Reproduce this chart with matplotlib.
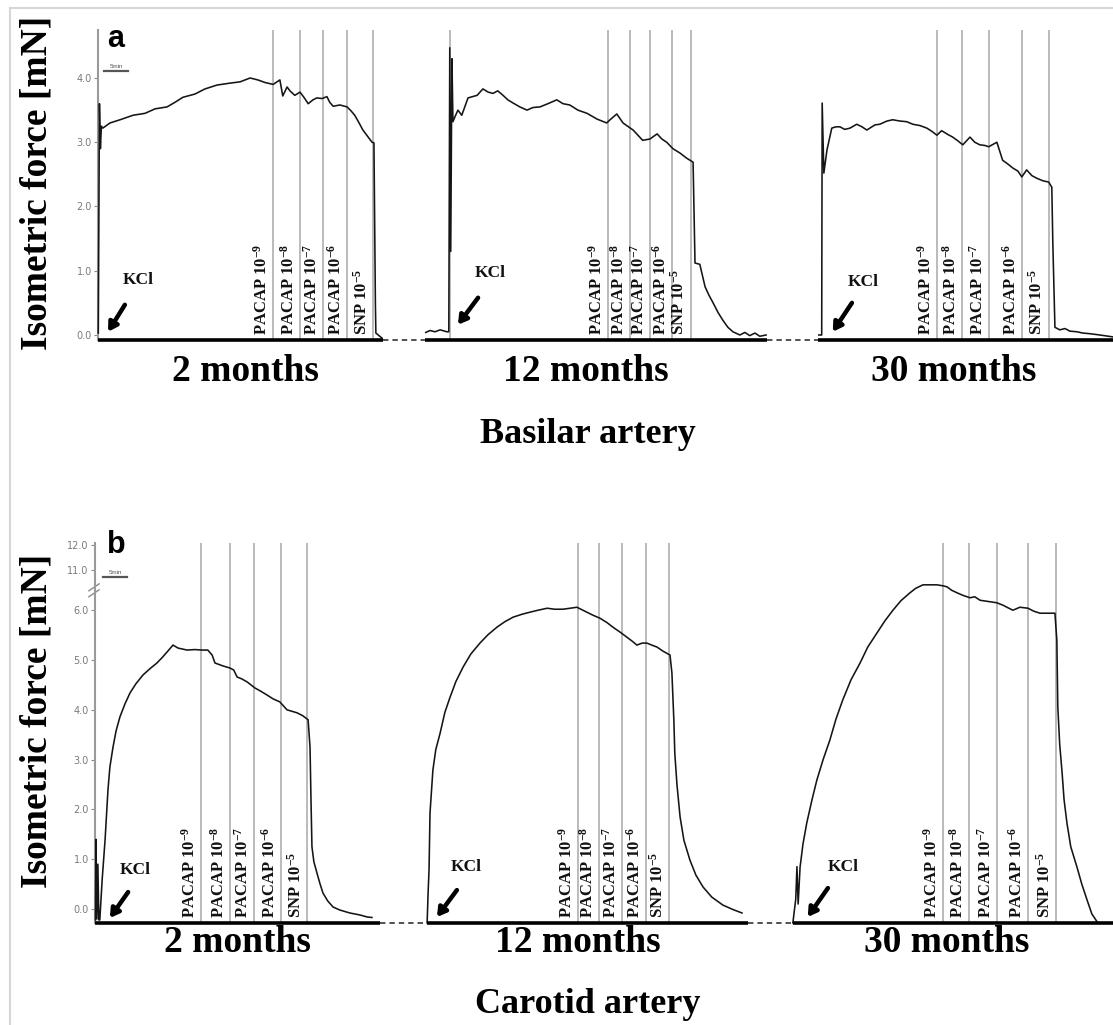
import matplotlib
matplotlib.use('Agg')
import matplotlib.pyplot as plt
import matplotlib.transforms as mtransforms
from matplotlib.lines import Line2D

plt.rcParams['mathtext.fontset'] = 'custom'
plt.rcParams['mathtext.rm'] = 'Liberation Serif:bold'
plt.rcParams['mathtext.it'] = 'Liberation Serif:bold'
plt.rcParams['mathtext.bf'] = 'Liberation Serif:bold'
plt.rcParams['mathtext.default'] = 'rm'

W, H = 1113, 1025
SERIF = 'Liberation Serif'
SANS = 'Liberation Sans'

# ---------------- data ----------------
groups = ['2 months', '12 months', '30 months']
drug_labels = ['PACAP 10$^{-9}$', 'PACAP 10$^{-8}$', 'PACAP 10$^{-7}$',
               'PACAP 10$^{-6}$', 'SNP 10$^{-5}$']

# Panel a: basilar artery (time in min, force in mN)
a_ticks = [0, 1, 2, 3, 4]
a_tick_labels = ['0.0', '1.0', '2.0', '3.0', '4.0']
a_segments = [(0.0, 59.4), (68.1, 139.4), (150.0, 211.5)]
a_additions = [[36.5, 42.1, 46.9, 51.9, 57.3],
               [106.3, 110.8, 115.0, 119.6, 123.5],
               [174.8, 180.0, 185.6, 192.5, 198.1]]
a_kcl_marker = [73.3]

a_t1 = [0.06, 0.3, 0.5, 0.7, 1.0, 2.5, 4.6, 7.3, 9.8, 11.9, 14.4, 16.0, 17.7, 20.2, 22.3,
        24.8, 27.5, 29.6, 31.7, 33.3, 34.8, 36.5, 37.9, 38.5, 39.4, 40.0, 41.0, 42.1, 42.9,
        43.8, 44.8, 45.6, 46.7, 47.7, 48.3, 49.0, 50.4, 51.9, 52.7, 53.5, 54.4, 55.2, 56.3,
        57.1, 57.5, 57.8, 57.9, 59.2]
a_f1 = [0.03, 3.60, 2.90, 3.25, 3.22, 3.30, 3.35, 3.42, 3.45, 3.52, 3.55, 3.62, 3.70, 3.75, 3.83,
        3.89, 3.92, 3.94, 4.00, 3.97, 3.93, 3.90, 3.97, 3.72, 3.86, 3.80, 3.73, 3.78, 3.70,
        3.60, 3.66, 3.69, 3.68, 3.71, 3.62, 3.56, 3.58, 3.55, 3.49, 3.42, 3.30, 3.19, 3.08,
        3.00, 2.99, 0.50, 0.03, -0.05]

a_t2 = [68.3, 69.2, 70.2, 71.3, 72.7, 73.1, 73.3, 73.5, 73.75, 73.96, 74.4, 75.0, 75.8, 77.1,
        79.0, 80.2, 81.3, 82.3, 83.3, 84.4, 85.4, 86.5, 87.9, 89.4, 90.6, 92.1, 93.75, 95.6,
        96.9, 98.3, 100.0, 101.9, 104.0, 106.0, 106.7, 108.1, 109.4, 111.5, 113.5, 115.0,
        116.5, 117.5, 118.5, 119.8, 121.3, 122.7, 124.0, 124.4, 125.4, 126.5, 127.3, 128.1,
        129.2, 130.2, 131.25, 132.3, 133.75, 134.8, 135.8, 136.9, 137.9, 139.2]
a_f2 = [0.04, 0.07, 0.05, 0.08, 0.05, 0.05, 4.47, 1.30, 4.30, 3.32, 3.40, 3.50, 3.42, 3.69,
        3.73, 3.83, 3.78, 3.76, 3.80, 3.73, 3.66, 3.61, 3.55, 3.50, 3.54, 3.55, 3.60, 3.66,
        3.60, 3.58, 3.50, 3.45, 3.36, 3.30, 3.35, 3.44, 3.30, 3.19, 3.03, 3.05,
        3.13, 3.05, 3.00, 2.90, 2.83, 2.75, 2.69, 1.12, 1.10, 0.75, 0.62, 0.51,
        0.35, 0.23, 0.12, 0.05, 0.00, 0.04, -0.01, 0.03, -0.02, 0.00]

a_t3 = [150.2, 150.8, 150.9, 151.25, 151.9, 152.9, 153.75, 154.6, 155.6, 156.7, 158.1, 159.2,
        160.2, 161.9, 162.9, 164.4, 165.6, 167.1, 168.5, 169.8, 171.25, 172.7, 173.75, 174.8,
        175.8, 177.1, 178.1, 179.2, 180.2, 181.7, 182.7, 183.75, 184.8, 185.6, 187.3, 188.5,
        189.6, 190.6, 191.7, 192.5, 193.5, 194.6, 195.6, 196.9, 198.1, 198.75, 198.96, 199.4,
        200.4, 201.5, 202.5, 204.0, 205.2, 206.7, 208.75, 211.5]
a_f3 = [0.00, 0.00, 3.61, 2.52, 2.88, 3.22, 3.24, 3.24, 3.20, 3.22, 3.28, 3.24,
        3.19, 3.27, 3.28, 3.33, 3.35, 3.33, 3.32, 3.28, 3.26, 3.22, 3.17, 3.11,
        3.18, 3.12, 3.08, 3.02, 2.96, 3.08, 3.00, 2.96, 2.95, 2.93, 3.00, 2.72,
        2.66, 2.60, 2.55, 2.46, 2.57, 2.48, 2.44, 2.40, 2.38, 2.30, 1.43, 0.12,
        0.08, 0.10, 0.06, 0.05, 0.03, 0.02, 0.00, -0.03]

# Panel b: carotid artery (broken axis: 11.0 / 12.0 drawn above 6.0)
b_ticks = [0, 1, 2, 3, 4, 5, 6, 6.81, 7.31]
b_tick_labels = ['0.0', '1.0', '2.0', '3.0', '4.0', '5.0', '6.0', '11.0', '12.0']
b_segments = [(0.0, 59.4), (69.2, 136.0), (145.4, 212.1)]
b_additions = [[22.1, 28.1, 33.1, 38.75, 44.2],
               [100.6, 105.0, 109.8, 114.8, 119.6],
               [176.7, 182.1, 187.9, 194.4, 200.2]]

b_t1 = [0.1, 0.2, 0.4, 0.6, 0.8, 1.0, 1.5, 2.1, 2.7, 3.1, 3.75, 4.4, 5.2, 6.25, 7.3, 8.5, 10.0,
        11.5, 12.9, 14.0, 15.0, 16.25, 17.3, 19.2, 20.8, 22.3, 23.5, 24.4, 25.0, 26.7, 28.1,
        28.9, 29.6, 30.6, 31.7, 33.3, 34.6, 35.8, 37.1, 38.5, 40.0, 42.1, 43.3, 44.4, 44.8,
        45.0, 45.2, 45.6, 46.25, 46.9, 47.5, 48.5, 49.6, 51.0, 53.1, 55.2, 56.7, 57.7]
b_f1 = [-0.22, 1.40, -0.20, 0.90, -0.22, -0.22, 0.60, 1.39, 2.39, 2.85, 3.25, 3.58, 3.86, 4.12,
        4.34, 4.52, 4.70, 4.83, 4.94, 5.05, 5.16, 5.30, 5.24, 5.20, 5.21, 5.20, 5.20, 5.10,
        4.94, 4.88, 4.84, 4.80, 4.66, 4.62, 4.56, 4.44, 4.37, 4.30, 4.22, 4.16, 4.00, 3.94,
        3.88, 3.80, 3.25, 2.20, 1.25, 0.95, 0.72, 0.50, 0.32, 0.16, 0.04, -0.02, -0.08,
        -0.12, -0.16, -0.17]

b_t2 = [69.2, 69.4, 69.6, 69.8, 70.4, 71.0, 71.9, 72.9, 74.0, 75.2, 76.7, 78.3, 80.2, 81.9,
        83.75, 85.4, 87.1, 89.0, 90.6, 92.3, 94.2, 95.8, 97.5, 99.0, 100.4, 102.5, 103.75,
        105.2, 106.7, 107.9, 109.4, 110.8, 111.9, 112.9, 114.0, 115.0, 116.0, 117.1, 118.3,
        119.8, 120.2, 120.6, 120.8, 121.25, 121.9, 122.7, 123.96, 125.2, 126.7, 128.5,
        130.8, 132.9, 134.8]
b_f2 = [-0.28, 0.32, 0.80, 1.93, 2.79, 3.20, 3.53, 3.95, 4.26, 4.57, 4.86, 5.12, 5.34, 5.51,
        5.66, 5.77, 5.86, 5.92, 5.96, 6.00, 6.04, 6.02, 6.02, 6.04, 6.06, 5.96, 5.90,
        5.84, 5.75, 5.66, 5.56, 5.46, 5.38, 5.30, 5.34, 5.34, 5.30, 5.26, 5.18,
        5.10, 4.74, 3.80, 3.13, 2.50, 1.85, 1.38, 0.98, 0.68, 0.44, 0.24,
        0.08, -0.01, -0.08]

b_t3 = [145.4, 146.0, 146.25, 146.5, 146.9, 147.5, 148.3, 149.4, 150.4, 151.7, 153.1, 154.4,
        155.8, 157.5, 159.4, 161.0, 162.9, 164.6, 166.25, 167.9, 169.8, 171.0, 172.5, 174.0,
        175.4, 176.7, 177.5, 178.5, 179.6, 180.8, 182.3, 183.3, 184.4, 186.5, 187.9, 189.2,
        190.2, 191.25, 192.7, 194.4, 195.6, 196.9, 198.5, 200.0, 200.4, 200.6, 201.0, 201.5,
        201.9, 202.5, 203.3, 204.6, 205.6, 206.7, 207.7, 208.95]
b_f3 = [-0.28, 0.20, 0.85, 0.10, 0.84, 1.30, 1.73, 2.20, 2.59, 3.00, 3.39, 3.82,
        4.20, 4.60, 4.94, 5.26, 5.54, 5.79, 6.00, 6.19, 6.35, 6.44, 6.51, 6.51,
        6.51, 6.49, 6.47, 6.40, 6.35, 6.30, 6.25, 6.27, 6.20, 6.17, 6.15, 6.10,
        6.05, 6.00, 6.06, 6.04, 5.98, 5.94, 5.94, 5.94, 5.40, 4.06, 3.30, 2.73,
        2.20, 1.73, 1.25, 0.84, 0.50, 0.18, -0.10, -0.28]

# KCl annotation anchors (text position, arrow tail, arrow tip) in (min, mN)
a_kcl = [((8.3, 0.86), (5.6, 0.47), (2.1, 0.05)),
         ((81.7, 0.96), (79.2, 0.58), (75.0, 0.16)),
         ((159.4, 0.82), (157.1, 0.50), (153.1, 0.05))]
b_kcl = [((8.3, 0.78), (6.9, 0.34), (3.1, -0.18)),
         ((77.3, 0.84), (75.4, 0.38), (71.25, -0.16)),
         ((155.8, 0.84), (152.7, 0.42), (148.5, -0.16))]

# ---------------- figure ----------------
fig = plt.figure(figsize=(W / 100, H / 100), dpi=100)
fig.patch.set_facecolor('white')


def px_axes(left, top, right, bottom):
    return fig.add_axes([left / W, 1 - bottom / H, (right - left) / W, (bottom - top) / H])


def draw_panel(ax, traces, segments, additions, kcl, ylim, xlim, ticks, ticklabels,
               scale_y, scale_text_y, extra_lines=()):
    ax.set_xlim(*xlim)
    ax.set_ylim(*ylim)
    for s in ['top', 'right', 'bottom']:
        ax.spines[s].set_visible(False)
    ax.spines['left'].set_color('#9a9a9a')
    ax.spines['left'].set_linewidth(1.5)
    ax.set_xticks([])
    ax.set_yticks(ticks)
    ax.set_yticklabels(ticklabels)
    ax.tick_params(axis='y', length=3, width=0.8, color='#8a8a8a', labelsize=7,
                   labelcolor='#7a7a7a', pad=1.5)
    xt = ax.get_xaxis_transform()
    # baseline segments and dashed breaks
    for i, (s0, s1) in enumerate(segments):
        ax.plot([s0, s1], [0, 0], transform=xt, color='black', lw=2.6,
                solid_capstyle='butt', clip_on=False, zorder=4)
        if i < len(segments) - 1:
            n0 = segments[i + 1][0]
            ax.plot([s1, n0], [0, 0], transform=xt, color='#444444', lw=1.3,
                    linestyle=(0, (3, 2.2)), clip_on=False, zorder=4)
    # addition markers
    lab_tr = mtransforms.offset_copy(xt, fig=fig, x=-2.5, y=5, units='dots')
    for adds in additions:
        for x, lab in zip(adds, drug_labels):
            ax.axvline(x, 0, 1, color='#a8a8a8', lw=1.1, zorder=1)
            ax.text(x, 0, lab, transform=lab_tr, rotation=90, ha='right', va='bottom',
                    fontsize=12, family=SERIF, weight='bold', color='#111111', zorder=5)
    for x in extra_lines:
        ax.axvline(x, 0, 1, color='#a8a8a8', lw=1.1, zorder=1)
    # traces
    for t, f in traces:
        ax.plot(t, f, color='#151515', lw=1.15, zorder=3, clip_on=False)
    # KCl
    for (tx, ty), tail, tip in kcl:
        ax.text(tx, ty, 'KCl', ha='center', va='center', fontsize=12.5, family=SERIF,
                weight='bold', color='#111111')
        ax.annotate('', xy=tip, xytext=tail,
                    arrowprops=dict(arrowstyle='-|>,head_length=0.5,head_width=0.3',
                                    lw=3.2, color='black', shrinkA=0, shrinkB=0,
                                    mutation_scale=10))
    # 5 min scale bar
    ax.plot([scale_y[0], scale_y[0] + 5], [scale_y[1], scale_y[1]], color='#555555', lw=1.6)
    ax.text(scale_y[0] + 2.5, scale_text_y, '5min', ha='center', va='bottom', fontsize=4.5,
            family=SANS, color='#555555')


# Panel a
axA = px_axes(98, 30, 1113, 340)
draw_panel(axA, [(a_t1, a_f1), (a_t2, a_f2), (a_t3, a_f3)], a_segments, a_additions, a_kcl,
           (-0.078, 4.747), (0, 211.5), a_ticks, a_tick_labels,
           (1.25, 4.11), 4.14, extra_lines=a_kcl_marker)

# Panel b
axB = px_axes(95, 543, 1113, 923)
draw_panel(axB, [(b_t1, b_f1), (b_t2, b_f2), (b_t3, b_f3)], b_segments, b_additions, b_kcl,
           (-0.281, 7.35), (0, 212.1), b_ticks, b_tick_labels,
           (1.67, 6.67), 6.71)
# axis-break mark on panel b spine
bt = axB.get_yaxis_transform()
for dy in (0.0, 0.12):
    axB.plot([-0.006, 0.004], [6.27 + dy, 6.41 + dy], transform=bt, color='#8a8a8a', lw=1.0,
             clip_on=False)

# Panel letters
fig.text(107 / W, 1 - 47 / H, 'a', fontsize=22, family=SANS, weight='bold', ha='left',
         va='baseline')
fig.text(107 / W, 1 - 553 / H, 'b', fontsize=22, family=SANS, weight='bold', ha='left',
         va='baseline')

# y labels
for yc in (183, 721):
    fig.text(37 / W, 1 - yc / H, 'Isometric force [mN]', rotation=90, ha='center',
             va='center', fontsize=27, family=SERIF, weight='bold')

# group labels
for xc, g in zip((245, 586, 954), groups):
    fig.text(xc / W, 1 - 381 / H, g, ha='center', va='baseline', fontsize=27,
             family=SERIF, weight='bold')
for xc, g in zip((237, 578, 947), groups):
    fig.text(xc / W, 1 - 952 / H, g, ha='center', va='baseline', fontsize=27,
             family=SERIF, weight='bold')

fig.text(588 / W, 1 - 443 / H, 'Basilar artery', ha='center', va='baseline', fontsize=26,
         family=SERIF, weight='bold')
fig.text(588 / W, 1 - 1013 / H, 'Carotid artery', ha='center', va='baseline', fontsize=26,
         family=SERIF, weight='bold')

# faint frame of the original image
fig.add_artist(Line2D([10 / W, 1], [1 - 8 / H, 1 - 8 / H], transform=fig.transFigure,
                      color='#d6d6d6', lw=1.5))
fig.add_artist(Line2D([10 / W, 10 / W], [0, 1 - 8 / H], transform=fig.transFigure,
                      color='#d6d6d6', lw=1.5))

fig.savefig('out.png', dpi=100, facecolor='white')
